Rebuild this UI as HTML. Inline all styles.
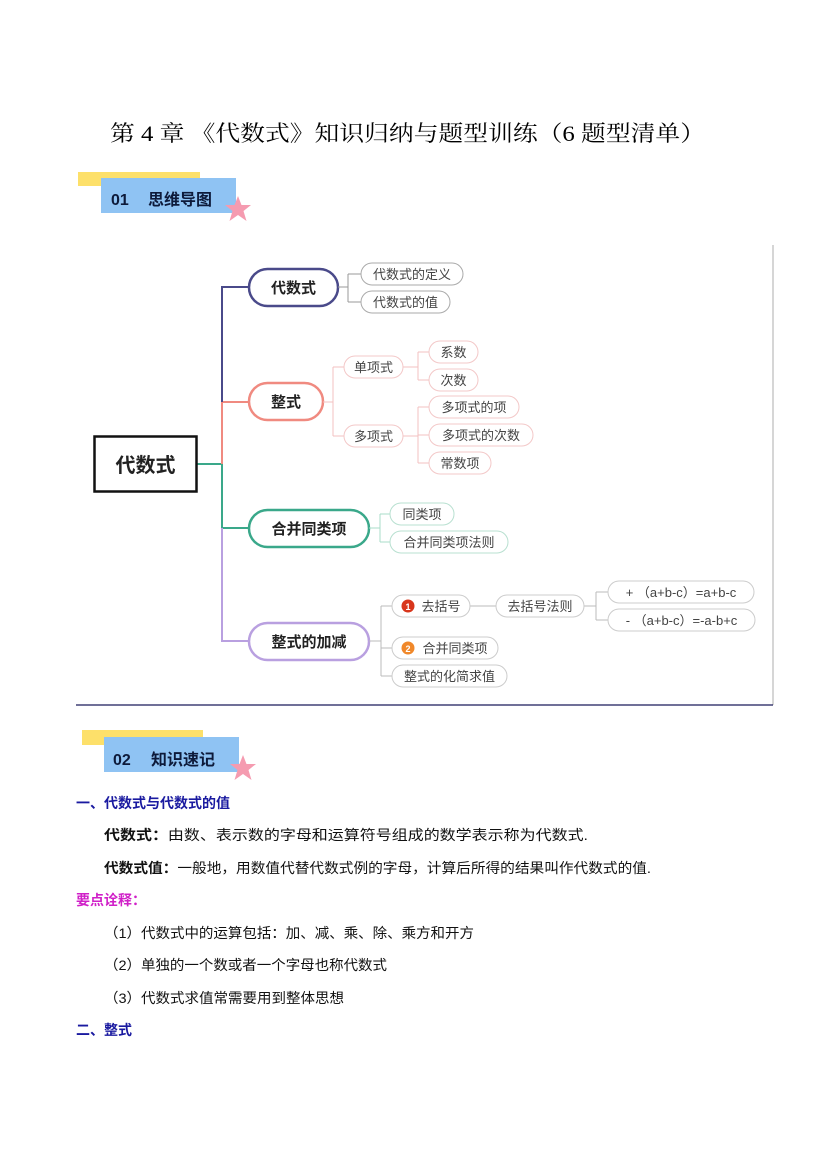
<!DOCTYPE html>
<html><head><meta charset="utf-8"><style>
html,body{margin:0;padding:0;background:#fff;}
svg{display:block;}
text{font-family:"Liberation Sans","Noto Sans CJK SC",sans-serif;}
.serif{font-family:"Liberation Serif","Noto Serif CJK SC",serif;}
</style></head><body>
<svg width="827" height="1169" viewBox="0 0 827 1169" xmlns="http://www.w3.org/2000/svg">
<!-- Title -->
<text class="serif" x="110" y="141" font-size="22" fill="#000" textLength="595" lengthAdjust="spacingAndGlyphs">第 4 章 《代数式》知识归纳与题型训练（6 题型清单）</text>

<!-- Header 1 -->
<rect x="78" y="172" width="122" height="14" fill="#fde06a"/>
<rect x="101" y="178" width="135" height="35" fill="#8fc3f3"/>
<text x="111" y="205" font-size="16" font-weight="bold" fill="#0d1a3a">01</text>
<text x="148" y="205" font-size="16" font-weight="bold" fill="#0d1a3a">思维导图</text>
<polygon points="238,196 241.5,205 251,205 243.5,211 246.5,221 238,215 229.5,221 232.5,211 225,205 234.5,205" fill="#f59bb0"/>

<!-- Frame -->
<line x1="773" y1="245" x2="773" y2="705" stroke="#c8c8c8" stroke-width="1.5"/>
<line x1="76" y1="705" x2="773" y2="705" stroke="#1a1a5a" stroke-width="1.2"/>

<!-- Trunk -->
<line x1="197" y1="464" x2="222" y2="464" stroke="#3aa88a" stroke-width="2"/>
<path d="M222 464 V402 H249" fill="none" stroke="#f08a80" stroke-width="2"/>
<path d="M222 402 V287 H249" fill="none" stroke="#4a4a8a" stroke-width="2"/>
<path d="M222 464 V528 H249" fill="none" stroke="#3aa88a" stroke-width="2"/>
<path d="M222 528 V641 H249" fill="none" stroke="#b9a0e0" stroke-width="2"/>

<!-- Root -->
<rect x="94.5" y="436.5" width="102" height="55" fill="#fff" stroke="#111" stroke-width="2.5"/>
<text x="145.5" y="472" font-size="20" font-weight="bold" text-anchor="middle" fill="#222">代数式</text>

<!-- Level1 -->
<rect x="249" y="269" width="89" height="37" rx="18.5" fill="#fff" stroke="#4a4a8a" stroke-width="2.5"/>
<text x="293.5" y="293" font-size="15" font-weight="bold" text-anchor="middle" fill="#222">代数式</text>
<rect x="249" y="383" width="74" height="37" rx="18.5" fill="#fff" stroke="#f08a80" stroke-width="2.5"/>
<text x="286" y="407" font-size="15" font-weight="bold" text-anchor="middle" fill="#222">整式</text>
<rect x="249" y="510" width="120" height="37" rx="18.5" fill="#fff" stroke="#3aa88a" stroke-width="2.5"/>
<text x="309" y="534" font-size="15" font-weight="bold" text-anchor="middle" fill="#222">合并同类项</text>
<rect x="249" y="623" width="120" height="37" rx="18.5" fill="#fff" stroke="#b9a0e0" stroke-width="2.5"/>
<text x="309" y="647" font-size="15" font-weight="bold" text-anchor="middle" fill="#222">整式的加减</text>

<!-- 代数式 children -->
<g fill="none" stroke="#999" stroke-width="1">
<path d="M338 287 H348 M348 274 V302 M348 274 H361 M348 302 H361"/>
</g>
<g font-size="13" fill="#444" text-anchor="middle">
<rect x="361" y="263" width="102" height="22" rx="11" fill="#fff" stroke="#aaa"/>
<text x="412" y="279">代数式的定义</text>
<rect x="361" y="291" width="89" height="22" rx="11" fill="#fff" stroke="#aaa"/>
<text x="405.5" y="307">代数式的值</text>
</g>

<!-- 整式 children -->
<g fill="none" stroke="#f3c0c0" stroke-width="1">
<path d="M323 402 H333 M333 367 V436 M333 367 H344 M333 436 H344"/>
<path d="M403 367 H418 M418 352 V380 M418 352 H429 M418 380 H429"/>
<path d="M403 436 H418 M418 407 V463 M418 407 H429 M418 435 H429 M418 463 H429"/>
</g>
<g font-size="13" fill="#444" text-anchor="middle">
<rect x="344" y="356" width="59" height="22" rx="11" fill="#fff" stroke="#f3c8c8"/>
<text x="373.5" y="372">单项式</text>
<rect x="344" y="425" width="59" height="22" rx="11" fill="#fff" stroke="#f3c8c8"/>
<text x="373.5" y="441">多项式</text>
<rect x="429" y="341" width="49" height="22" rx="11" fill="#fff" stroke="#f3c8c8"/>
<text x="453.5" y="357">系数</text>
<rect x="429" y="369" width="49" height="22" rx="11" fill="#fff" stroke="#f3c8c8"/>
<text x="453.5" y="385">次数</text>
<rect x="429" y="396" width="90" height="22" rx="11" fill="#fff" stroke="#f3c8c8"/>
<text x="474" y="412">多项式的项</text>
<rect x="429" y="424" width="104" height="22" rx="11" fill="#fff" stroke="#f3c8c8"/>
<text x="481" y="440">多项式的次数</text>
<rect x="429" y="452" width="62" height="22" rx="11" fill="#fff" stroke="#f3c8c8"/>
<text x="460" y="468">常数项</text>
</g>

<!-- 合并同类项 children -->
<g fill="none" stroke="#a8dcc8" stroke-width="1">
<path d="M369 528 H380 M380 514 V542 M380 514 H390 M380 542 H390"/>
</g>
<g font-size="13" fill="#444" text-anchor="middle">
<rect x="390" y="503" width="64" height="22" rx="11" fill="#fff" stroke="#b8e0d0"/>
<text x="422" y="519">同类项</text>
<rect x="390" y="531" width="118" height="22" rx="11" fill="#fff" stroke="#b8e0d0"/>
<text x="449" y="547">合并同类项法则</text>
</g>

<!-- 整式的加减 children -->
<g fill="none" stroke="#bbb" stroke-width="1">
<path d="M369 641 H381 M381 606 V676 M381 606 H392 M381 648 H392 M381 676 H392"/>
<path d="M470 606 H496"/>
<path d="M584 606 H596 M596 592 V620 M596 592 H608 M596 620 H608"/>
</g>
<g font-size="13" fill="#444" text-anchor="middle">
<rect x="392" y="595" width="78" height="22" rx="11" fill="#fff" stroke="#ccc"/>
<circle cx="408" cy="606" r="6.5" fill="#d8361c"/>
<text x="408" y="610" font-size="9" fill="#fff" font-weight="bold">1</text>
<text x="441" y="611">去括号</text>
<rect x="392" y="637" width="106" height="22" rx="11" fill="#fff" stroke="#ccc"/>
<circle cx="408" cy="648" r="6.5" fill="#f0882a"/>
<text x="408" y="652" font-size="9" fill="#fff" font-weight="bold">2</text>
<text x="455" y="653">合并同类项</text>
<rect x="392" y="665" width="115" height="22" rx="11" fill="#fff" stroke="#ccc"/>
<text x="449.5" y="681">整式的化简求值</text>
<rect x="496" y="595" width="88" height="22" rx="11" fill="#fff" stroke="#ccc"/>
<text x="540" y="611">去括号法则</text>
<rect x="608" y="581" width="146" height="22" rx="11" fill="#fff" stroke="#ccc"/>
<text x="681" y="597">+ （a+b-c）=a+b-c</text>
<rect x="608" y="609" width="147" height="22" rx="11" fill="#fff" stroke="#ccc"/>
<text x="681.5" y="625">- （a+b-c）=-a-b+c</text>
</g>

<!-- Header 2 -->
<rect x="82" y="730" width="121" height="15" fill="#fde06a"/>
<rect x="104" y="737" width="135" height="35" fill="#8fc3f3"/>
<text x="113" y="765" font-size="16" font-weight="bold" fill="#0d1a3a">02</text>
<text x="151" y="765" font-size="16" font-weight="bold" fill="#0d1a3a">知识速记</text>
<polygon points="243,755 246.5,764 256,764 248.5,770 251.5,780 243,774 234.5,780 237.5,770 230,764 239.5,764" fill="#f59bb0"/>

<!-- Text section -->
<text x="76" y="808" font-size="14" font-weight="bold" fill="#1a1aa0">一、代数式与代数式的值</text>
<text x="104" y="840" font-size="14" fill="#111" textLength="484" lengthAdjust="spacingAndGlyphs"><tspan font-weight="bold">代数式：</tspan>由数、表示数的字母和运算符号组成的数学表示称为代数式.</text>
<text x="104" y="873" font-size="14" fill="#111" textLength="547" lengthAdjust="spacingAndGlyphs"><tspan font-weight="bold">代数式值：</tspan>一般地，用数值代替代数式例的字母，计算后所得的结果叫作代数式的值.</text>
<text x="76" y="905" font-size="14" font-weight="bold" fill="#d020c8">要点诠释：</text>
<text x="104" y="938" font-size="14" fill="#111" textLength="370" lengthAdjust="spacingAndGlyphs">（1）代数式中的运算包括：加、减、乘、除、乘方和开方</text>
<text x="104" y="970" font-size="14" fill="#111" textLength="283" lengthAdjust="spacingAndGlyphs">（2）单独的一个数或者一个字母也称代数式</text>
<text x="104" y="1003" font-size="14" fill="#111" textLength="240" lengthAdjust="spacingAndGlyphs">（3）代数式求值常需要用到整体思想</text>
<text x="76" y="1035" font-size="14" font-weight="bold" fill="#1a1aa0">二、整式</text>
</svg>
</body></html>
